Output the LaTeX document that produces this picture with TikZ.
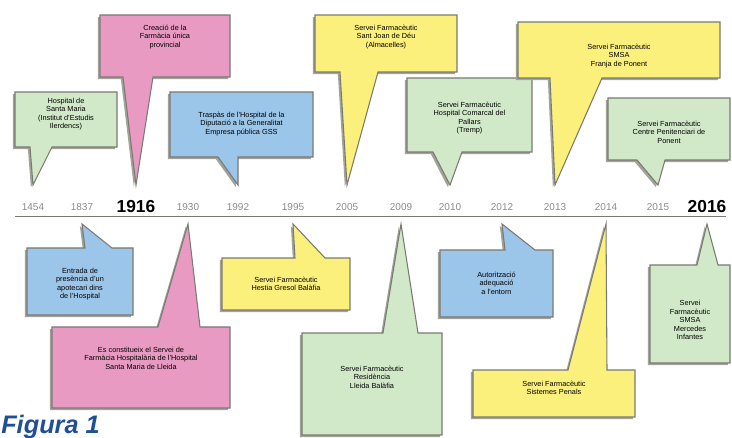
\documentclass[tikz,border=0pt]{standalone}
\usepackage{fontspec}
\setmainfont{Liberation Sans}
\usetikzlibrary{calc,shadows}

\definecolor{cgreen}{HTML}{D2E9C9}
\definecolor{cpink}{HTML}{E99AC2}
\definecolor{cblue}{HTML}{9CC5EA}
\definecolor{cyellow}{HTML}{FCF07C}
\definecolor{edgegray}{HTML}{7A7A72}
\definecolor{shadowgray}{HTML}{A3A39C}
\definecolor{yeargray}{HTML}{8A8A8A}
\definecolor{figblue}{HTML}{1F4F96}

\begin{document}
\begin{tikzpicture}[
      x=0.75pt,y=-0.75pt,
      callout/.style={
         draw=edgegray,
         line width=0.8pt,
         line join=miter,
         drop shadow={shadow xshift=-1.6pt,shadow yshift=-1.6pt,fill=shadowgray,opacity=1}},
      evtext/.style={
         align=center,
         inner sep=0pt,
         font=\fontsize{5.5}{6.4}\selectfont},
      year/.style={inner sep=0pt,text=yeargray,font=\fontsize{7.5}{8}\selectfont},
      bigyear/.style={inner sep=0pt,font=\fontsize{13}{14}\selectfont\bfseries}
      ]
      \useasboundingbox (0,0) rectangle (732,438);

      % years on the line
      \foreach \yr/\x/\s in {1454/33/year, 1837/82/year, 1916/136/bigyear,
        1930/188/year, 1992/238/year, 1995/293/year, 2005/347/year,
        2009/401/year, 2010/450/year, 2012/502/year, 2013/555/year,
        2014/606/year, 2015/658/year, 2016/707/bigyear}
         \node[\s] (y\yr) at (\x,207) {\yr};

      \coordinate (tl-start) at (15,216);
      \coordinate (tl-end) at (726,216);
      \draw[edgegray,line width=0.6pt] (tl-start) -- (tl-end);

    % callouts above the line: year/colour/x1/y1/x2/y2/tail base/text y/text
    \foreach \yr/\c/\xa/\ya/\xb/\yb/\ba/\bb/\ty/\txt in {%
      1454/cgreen/15/92/117/147/30/52/114/{Hospital de\\Santa Maria\\(Institut d'Estudis\\Ilerdencs)},
      1916/cpink/100/15/230/77/123/153/37/{Creació de la\\Farmàcia única\\provincial},
      1992/cblue/170/92/313/157/218/238/124/{Traspàs de l'Hospital de la\\Diputació a la Generalitat\\Empresa pública GSS},
      2005/cyellow/315/15/457/72/340/378/37/{Servei Farmacèutic\\Sant Joan de Déu\\(Almacelles)},
      2010/cgreen/407/78/532/152/433/462/118/{Servei Farmacèutic\\Hospital Comarcal del\\Pallars\\(Tremp)},
      2013/cyellow/518/22/720/78/550/602/56/{Servei Farmacèutic\\SMSA\\Franja de Ponent},
      2015/cgreen/608/98/730/160/637/665/132/{Servei Farmacèutic\\Centre Penitenciari de\\Ponent}}
    {
      \coordinate (tip\yr) at ($(y\yr.center)+(0,-22)$);
      \filldraw[callout,fill=\c] (\xa,\ya) -- (\xb,\ya) -- (\xb,\yb) -- (\bb,\yb)
         -- (tip\yr) -- (\ba,\yb) -- (\xa,\yb) -- cycle;
      \node[evtext] (ev\yr) at ({(\xa+\xb)/2},\ty) {\txt};
    }

    % callouts below the line
    \foreach \yr/\c/\xa/\ya/\xb/\yb/\ba/\bb/\ty/\txt in {%
      1837/cblue/27/248/133/315/85/112/284/{Entrada de\\presència d'un\\apotecari dins\\de l'Hospital},
      1930/cpink/52/327/230/408/158/200/358/{Es constitueix el Servei de\\Farmàcia Hospitalària de l'Hospital\\Santa Maria de Lleida},
      1995/cyellow/222/258/350/310/295/325/284/{Servei Farmacèutic\\Hestia Gresol Balàfia},
      2009/cgreen/302/333/442/435/383/418/377/{Servei Farmacèutic\\Residència\\Lleida Balàfia},
      2012/cblue/440/250/553/317/505/535/283/{Autorització\\adequació\\a l'entorn},
      2014/cyellow/473/370/635/417/568/607/388/{Servei Farmacèutic\\Sistemes Penals},
      2016/cgreen/650/265/730/363/697/718/320/{Servei\\Farmacèutic\\SMSA\\Mercedes\\Infantes}}
    {
      \coordinate (tip\yr) at ($(y\yr.center)+(0,17)$);
      \filldraw[callout,fill=\c] (\xa,\ya) -- (\ba,\ya) -- (tip\yr) -- (\bb,\ya)
         -- (\xb,\ya) -- (\xb,\yb) -- (\xa,\yb) -- cycle;
      \node[evtext] (ev\yr) at ({(\xa+\xb)/2},\ty) {\txt};
    }

     \node[anchor=base west,inner sep=0pt,text=figblue,
        font=\fontsize{19}{20}\selectfont\bfseries\itshape] (caption) at (1,433) {Figura 1};
    \end{tikzpicture}
\end{document}
